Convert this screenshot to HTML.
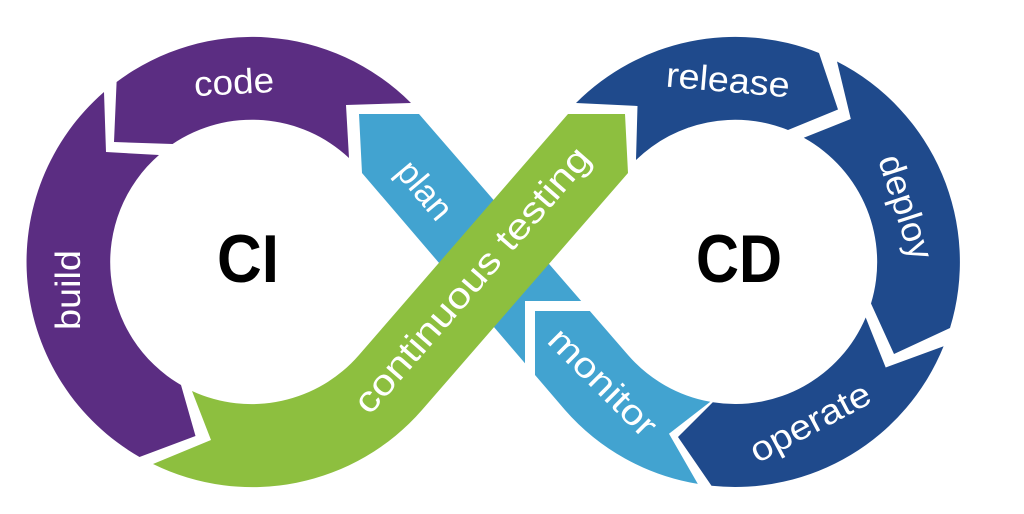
<!DOCTYPE html>
<html><head><meta charset="utf-8"><style>
html,body{margin:0;padding:0;background:#fff;}
svg{display:block;}
text{font-family:"Liberation Sans",sans-serif;fill:#fff;font-weight:bold;}
</style></head><body>
<svg width="1024" height="514" viewBox="0 0 1024 514" xmlns="http://www.w3.org/2000/svg">
<path fill="#5b2d82" d="M139.5 457 A225 225 0 0 1 104 92 L106 152 L159 155 A142 142 0 0 0 181 385 L195.5 436 Z"/>
<path fill="#5b2d82" d="M116.6 82 A225 225 0 0 1 411 103 L346 105 L349 158 A142 142 0 0 0 172.6 144 L114 142 Z"/>
<path fill="#1f4a8c" d="M576 103 A225 225 0 0 1 819 53 L838 109.5 L788 130 A142 142 0 0 0 636 160 L637.5 106 Z"/>
<path fill="#1f4a8c" d="M837 61.5 A225 225 0 0 1 950 328 L894 354 L871 303.5 A142 142 0 0 0 803.8 137.8 L850.8 119 Z"/>
<path fill="#1f4a8c" d="M943.6 346.3 A225 225 0 0 1 711.5 485.8 L678 437 L712.8 402.3 A142 142 0 0 0 865.7 317.5 L885.7 367.5 Z"/>
<path fill="#42a3d0" d="M359 114 L419 114 L628 355 A142 142 0 0 0 710.3 401.8 L669 433.8 L697.8 483.9 A225 225 0 0 1 565 410 L362 173 Z"/>
<polyline points="600,306 530,306 530,380" fill="none" stroke="#fff" stroke-width="10"/>
<path fill="#8dbf3f" d="M153 464 A225 225 0 0 0 422 410 L628 173 L625 114 L568 114 L359 355 A142 142 0 0 1 192 391 L211 440 Z"/>
<text x="234" y="94" font-size="35" style="font-weight:normal" text-anchor="middle" transform="rotate(-3 234 82)" textLength="80" lengthAdjust="spacingAndGlyphs">code</text>
<text x="68" y="302" font-size="35" style="font-weight:normal" text-anchor="middle" transform="rotate(-90 68 290)" textLength="80" lengthAdjust="spacingAndGlyphs">build</text>
<text x="425" y="202" font-size="35" style="font-weight:normal" text-anchor="middle" transform="rotate(50 425 190)" textLength="66" lengthAdjust="spacingAndGlyphs">plan</text>
<text x="472" y="292" font-size="36" style="font-weight:normal" text-anchor="middle" transform="rotate(-49 472 280)" textLength="340" lengthAdjust="spacingAndGlyphs">continuous testing</text>
<text x="728" y="92" font-size="35" style="font-weight:normal" text-anchor="middle" transform="rotate(5 728 80)" textLength="124" lengthAdjust="spacingAndGlyphs">release</text>
<text x="906" y="219" font-size="35" style="font-weight:normal" text-anchor="middle" transform="rotate(72 906 207)" textLength="108" lengthAdjust="spacingAndGlyphs">deploy</text>
<text x="810" y="434" font-size="35" style="font-weight:normal" text-anchor="middle" transform="rotate(-28 810 422)" textLength="132" lengthAdjust="spacingAndGlyphs">operate</text>
<text x="603" y="394" font-size="35" style="font-weight:normal" text-anchor="middle" transform="rotate(45 603 382)" textLength="138" lengthAdjust="spacingAndGlyphs">monitor</text>
<text x="248" y="282" font-size="68" text-anchor="middle" style="fill:#000" textLength="62" lengthAdjust="spacingAndGlyphs">CI</text>
<text x="739" y="282" font-size="68" text-anchor="middle" style="fill:#000" textLength="86" lengthAdjust="spacingAndGlyphs">CD</text>
</svg>
</body></html>
